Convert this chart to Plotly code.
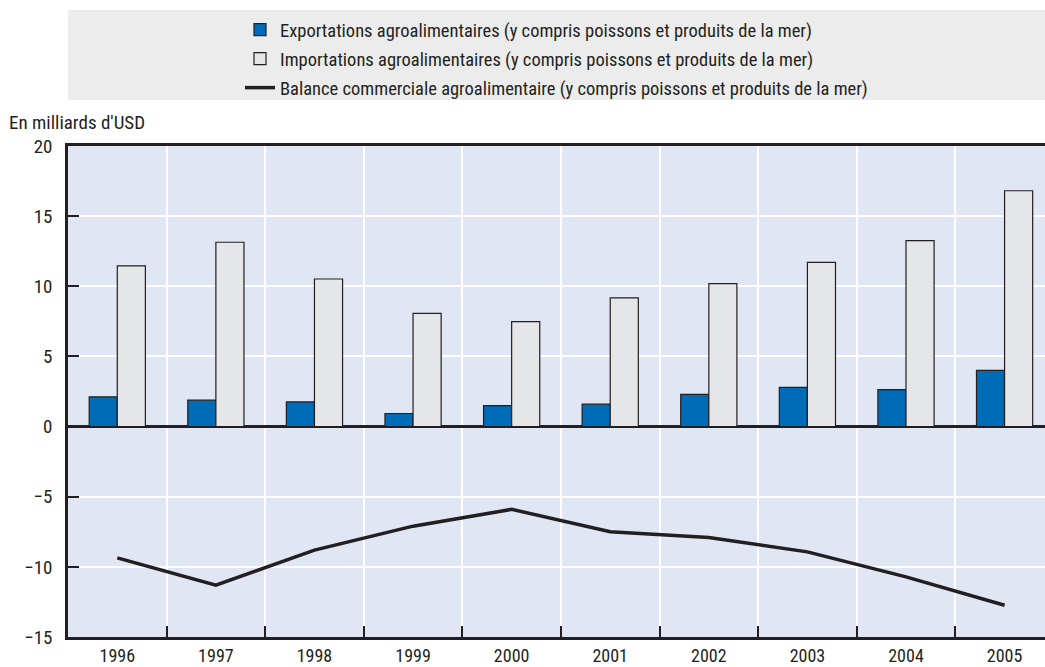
import plotly.graph_objects as go

years = ["1996", "1997", "1998", "1999", "2000", "2001", "2002", "2003", "2004", "2005"]
exports = [2.12, 1.88, 1.76, 0.93, 1.50, 1.60, 2.29, 2.79, 2.64, 4.00]
imports = [11.45, 13.14, 10.52, 8.07, 7.48, 9.17, 10.19, 11.71, 13.26, 16.81]
balance = [-9.36, -11.31, -8.81, -7.10, -5.90, -7.50, -7.90, -8.93, -10.71, -12.74]

y_ticks = [-15, -10, -5, 0, 5, 10, 15, 20]

names = [
    "Exportations agroalimentaires (y compris poissons et produits de la mer)",
    "Importations agroalimentaires (y compris poissons et produits de la mer)",
    "Balance commerciale agroalimentaire (y compris poissons et produits de la mer)",
]

FONT = "Liberation Sans Narrow, Arial Narrow, Roboto Condensed, DejaVu Sans Condensed, sans-serif"
DARK = "#231f20"

W, H = 1045, 667
L, R, T, B = 68, 0, 146, 30
PW, PH = W - L - R, H - T - B

def px_x(p):
    return (p - L) / PW

def px_y(p):
    return 1 + (T - p) / PH

fig = go.Figure()
fig.add_trace(go.Bar(
    x=years, y=exports, name=names[0], legendgroup="a",
    marker=dict(color="#006bb6", line=dict(color=DARK, width=1.2)),
))
fig.add_trace(go.Bar(
    x=years, y=imports, name=names[1], legendgroup="b",
    marker=dict(color="#e5e6e8", line=dict(color=DARK, width=1.2)),
))
fig.add_trace(go.Scatter(
    x=years, y=balance, name=names[2], legendgroup="c", mode="lines",
    line=dict(color=DARK, width=3.5),
))

fig.update_layout(
    width=W, height=H,
    margin=dict(l=L, r=R, t=T, b=B, autoexpand=False),
    paper_bgcolor="white",
    plot_bgcolor="#e0e6f4",
    font=dict(family=FONT, size=18, color=DARK),
    barmode="group",
    bargap=0.43,
    bargroupgap=0,
    showlegend=True,
    legend=dict(
        x=px_x(240), y=px_y(11), xanchor="left", yanchor="top",
        bgcolor="rgba(0,0,0,0)", font=dict(size=18.5, family=FONT, color=DARK),
        tracegroupgap=2, traceorder="grouped",
    ),
    shapes=[dict(
        type="rect", xref="paper", yref="paper",
        x0=0, x1=1, y0=px_y(100), y1=px_y(10),
        fillcolor="#ececec", line=dict(width=0), layer="below",
    )],
    annotations=[dict(
        text="En milliards d'USD", xref="paper", yref="paper",
        x=px_x(7), y=px_y(122), xanchor="left", yanchor="middle",
        showarrow=False, font=dict(size=19, family=FONT, color=DARK),
    )],
)

fig.update_xaxes(
    type="category", range=[-0.5, 9.41],
    tickson="boundaries", ticks="inside", ticklen=11, tickwidth=1.5, tickcolor=DARK,
    showgrid=True, gridcolor="white", gridwidth=1.5,
    showline=True, linecolor=DARK, linewidth=2.5, mirror=True,
    tickfont=dict(size=18, family=FONT, color=DARK),
    ticklabelstandoff=1, automargin=False,
)
fig.update_yaxes(
    range=[-15, 20], tickvals=y_ticks,
    ticks="inside", ticklen=11, tickwidth=1.5, tickcolor=DARK,
    showgrid=True, gridcolor="white", gridwidth=1.5,
    zeroline=True, zerolinecolor=DARK, zerolinewidth=2.5,
    showline=True, linecolor=DARK, linewidth=2.5, mirror=False,
    tickfont=dict(size=19, family=FONT, color=DARK),
    ticklabelstandoff=9, automargin=False,
)

fig.write_html(
    "out.html",
    config={"displayModeBar": False},
    post_script="document.body.style.margin='0';document.body.style.padding='0';",
)
